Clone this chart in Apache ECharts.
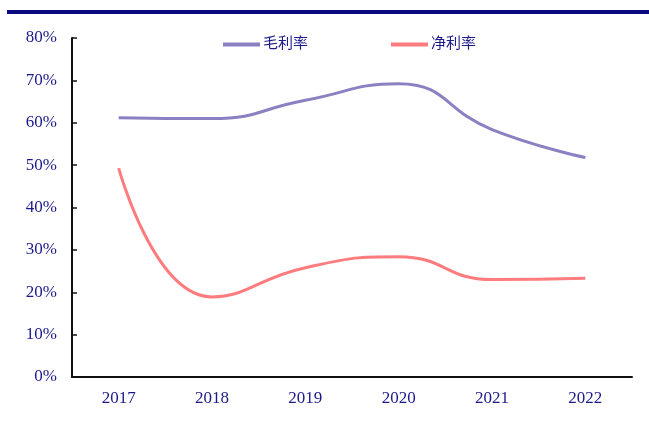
<!DOCTYPE html>
<html>
<head>
<meta charset="utf-8">
<script src="https://cdn.jsdelivr.net/npm/echarts@6/dist/echarts.min.js"></script>
<style>
  html, body { margin: 0; padding: 0; background: #fff; }
  #chart { width: 649px; height: 425px; }
</style>
</head>
<body>
<div id="chart"></div>
<script>
// values (percent)
const years = ['2017', '2018', '2019', '2020', '2021', '2022']
const grossMargin = [61.2, 61.0, 65.3, 69.2, 58.4, 51.8]
const netMargin = [49.3, 18.9, 25.8, 28.4, 23.0, 23.3]

const textColor = '#1c1a8a'
const fontFamily = '"Liberation Serif", "Noto Sans CJK SC", serif'

const chart = echarts.init(document.getElementById('chart'))
chart.setOption({
  animation: false,
  textStyle: { fontFamily: fontFamily },
  graphic: [{
    type: 'rect',
    shape: { x: 7, y: 10, width: 642, height: 4 },
    style: { fill: '#0c0a80' }
  }],
  legend: {
    left: 218,
    top: 32,
    itemWidth: 37,
    itemHeight: 4,
    itemGap: 83,
    icon: 'rect',
    textStyle: { color: textColor, fontSize: 15, fontFamily: fontFamily, padding: [0, 0, 0, -2] },
    data: ['毛利率', '净利率']
  },
  grid: { left: 72, right: 17, top: 38, bottom: 48, containLabel: false },
  xAxis: {
    type: 'category',
    data: years,
    boundaryGap: true,
    axisLine: { lineStyle: { color: '#111', width: 2 } },
    axisTick: { inside: true, length: 5, lineStyle: { color: '#111', width: 1.5 } },
    axisLabel: { color: textColor, fontSize: 17, margin: 13 }
  },
  yAxis: {
    type: 'value',
    min: 0,
    max: 80,
    interval: 10,
    splitLine: { show: false },
    axisLine: { show: true, lineStyle: { color: '#111', width: 2 } },
    axisTick: { show: true, inside: true, length: 5, lineStyle: { color: '#111', width: 1.5 } },
    axisLabel: { color: textColor, fontSize: 17, margin: 15, formatter: '{value}%' }
  },
  series: [
    {
      name: '毛利率',
      type: 'line',
      data: grossMargin,
      smooth: 0.5,
      showSymbol: false,
      itemStyle: { color: '#8a80c2' },
      lineStyle: { color: '#8a80c2', width: 3 }
    },
    {
      name: '净利率',
      type: 'line',
      data: netMargin,
      smooth: 0.5,
      showSymbol: false,
      itemStyle: { color: '#ff7c7e' },
      lineStyle: { color: '#ff7c7e', width: 3 }
    }
  ]
})
</script>
</body>
</html>
